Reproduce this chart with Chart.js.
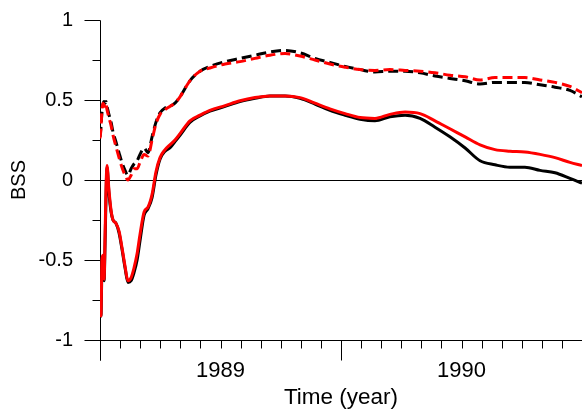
<!DOCTYPE html>
<html>
<head>
<meta charset="utf-8">
<script src="https://cdn.jsdelivr.net/npm/chart.js@4.4.1/dist/chart.umd.min.js"></script>
<style>
  html, body { margin: 0; padding: 0; background: #fff; }
  #bssChart { display: block; }
</style>
</head>
<body>
<canvas id="bssChart" width="582" height="412"></canvas>
<script>
// time axis in decimal years
const timeYears = [
    1989.000, 1989.004, 1989.008, 1989.012, 1989.017, 1989.021, 1989.025, 1989.029,
    1989.037, 1989.046, 1989.054, 1989.066, 1989.079, 1989.091, 1989.104, 1989.116,
    1989.129, 1989.141, 1989.154, 1989.166, 1989.183, 1989.199, 1989.216, 1989.232,
    1989.249, 1989.270, 1989.290, 1989.311, 1989.332, 1989.373, 1989.415, 1989.456,
    1989.519, 1989.581, 1989.643, 1989.705, 1989.768, 1989.830, 1989.892, 1989.954,
    1990.017, 1990.079, 1990.141, 1990.203, 1990.266, 1990.328, 1990.390, 1990.452,
    1990.515, 1990.577, 1990.639, 1990.701, 1990.763, 1990.826, 1990.888, 1990.950,
    1991.000
];

// Brier skill score, two runs, two variants each
const bssRunA = [
    -0.72, -0.85, -0.55, -0.48, -0.63, -0.40, -0.10, 0.08,
    -0.08, -0.20, -0.25, -0.27, -0.33, -0.43, -0.55, -0.64,
    -0.63, -0.58, -0.50, -0.38, -0.22, -0.18, -0.11, 0.03,
    0.13, 0.18, 0.20, 0.24, 0.28, 0.36, 0.40, 0.43,
    0.46, 0.49, 0.51, 0.525, 0.525, 0.51, 0.475, 0.435,
    0.405, 0.38, 0.37, 0.395, 0.405, 0.385, 0.33, 0.27,
    0.20, 0.12, 0.095, 0.08, 0.08, 0.06, 0.045, 0.01, -0.02
];
const bssRunB = [
    -0.72, -0.85, -0.50, -0.47, -0.62, -0.35, -0.05, 0.09,
    -0.06, -0.19, -0.25, -0.27, -0.32, -0.42, -0.54, -0.63,
    -0.61, -0.55, -0.46, -0.34, -0.20, -0.17, -0.09, 0.05,
    0.14, 0.19, 0.22, 0.25, 0.29, 0.37, 0.405, 0.435,
    0.465, 0.495, 0.515, 0.525, 0.525, 0.515, 0.48, 0.445,
    0.415, 0.39, 0.385, 0.41, 0.425, 0.415, 0.37, 0.32,
    0.27, 0.22, 0.19, 0.18, 0.175, 0.16, 0.14, 0.11, 0.09
];
const bssRunADash = [
    0.27, 0.33, 0.42, 0.47, 0.49, 0.48, 0.49, 0.46,
    0.41, 0.36, 0.30, 0.24, 0.17, 0.11, 0.06, 0.03,
    0.07, 0.10, 0.12, 0.16, 0.20, 0.17, 0.27, 0.36,
    0.42, 0.45, 0.46, 0.48, 0.52, 0.62, 0.68, 0.71,
    0.74, 0.76, 0.78, 0.80, 0.81, 0.795, 0.76, 0.735,
    0.71, 0.69, 0.675, 0.68, 0.68, 0.67, 0.65, 0.635,
    0.62, 0.60, 0.61, 0.61, 0.61, 0.595, 0.58, 0.56, 0.52
];
const bssRunBDash = [
    0.26, 0.32, 0.44, 0.48, 0.47, 0.45, 0.47, 0.44,
    0.39, 0.34, 0.28, 0.21, 0.14, 0.08, 0.03, 0.0,
    0.03, 0.07, 0.07, 0.11, 0.16, 0.15, 0.25, 0.35,
    0.41, 0.44, 0.46, 0.48, 0.52, 0.62, 0.68, 0.70,
    0.725, 0.74, 0.76, 0.78, 0.79, 0.775, 0.75, 0.725,
    0.705, 0.69, 0.685, 0.69, 0.685, 0.68, 0.67, 0.655,
    0.645, 0.625, 0.64, 0.64, 0.64, 0.625, 0.61, 0.585, 0.545
];

const yearLabels = [1989, 1990];
const yTicks = [-1, -0.5, 0, 0.5, 1];
const yMinorTicks = [-0.75, -0.25, 0.25, 0.75];

const FONT = 'Arial, "Liberation Sans", sans-serif';

function toPoints(values) {
    return values.map(function(v, i) { return {x: timeYears[i], y: v}; });
}

function lineSet(label, values, color, dashed, order) {
    return {
        label: label,
        data: toPoints(values),
        borderColor: color,
        borderWidth: 3,
        borderDash: dashed ? [10, 5] : [],
        pointRadius: 0,
        fill: false,
        cubicInterpolationMode: 'monotone',
        order: order
    };
}

// axis lines, tick marks and the zero line are drawn by hand
const axisMarks = {
    id: 'axisMarks',
    beforeDatasetsDraw: function(chart) {
        const ctx = chart.ctx;
        const xs = chart.scales.x;
        const ys = chart.scales.y;
        const area = chart.chartArea;
        const px = function(v) { return Math.round(v) + 0.5; };
        const left = px(xs.getPixelForValue(xs.min));
        const bottom = px(ys.getPixelForValue(ys.min));

        ctx.save();
        ctx.strokeStyle = '#000';
        ctx.lineWidth = 1;
        ctx.beginPath();

        // y axis
        ctx.moveTo(left, px(ys.getPixelForValue(ys.max)));
        ctx.lineTo(left, bottom + 20);
        yTicks.forEach(function(v) {
            const y = px(ys.getPixelForValue(v));
            ctx.moveTo(left - 16, y);
            ctx.lineTo(v === 0 || v === -1 ? area.right : left, y);
        });
        yMinorTicks.forEach(function(v) {
            const y = px(ys.getPixelForValue(v));
            ctx.moveTo(left - 8, y);
            ctx.lineTo(left, y);
        });

        // monthly ticks, longer at each new year
        for (let m = 0; m <= 24; m++) {
            const x = px(xs.getPixelForValue(xs.min + m / 12));
            ctx.moveTo(x, bottom);
            ctx.lineTo(x, bottom + (m % 12 === 0 ? 20 : 8));
        }
        ctx.stroke();
        ctx.restore();
    }
};

const ctx = document.getElementById('bssChart').getContext('2d');
const bssChart = new Chart(ctx, {
    type: 'line',
    data: {
        datasets: [
            lineSet('Run B', bssRunB, '#ff0000', false, 1),
            lineSet('Run B (dashed)', bssRunBDash, '#ff0000', true, 1),
            lineSet('Run A', bssRunA, '#000000', false, 2),
            lineSet('Run A (dashed)', bssRunADash, '#000000', true, 2)
        ]
    },
    plugins: [axisMarks],
    options: {
        responsive: false,
        animation: false,
        layout: {
            padding: {top: 20, right: 0, bottom: 0, left: 0}
        },
        plugins: {
            legend: {display: false},
            tooltip: {enabled: false}
        },
        scales: {
            x: {
                type: 'linear',
                min: 1989,
                max: 1991,
                grid: {display: false, drawTicks: false},
                border: {display: false},
                afterBuildTicks: function(scale) {
                    scale.ticks = yearLabels.map(function(y) { return {value: y + 0.5}; });
                },
                afterFit: function(scale) {
                    scale.height = 72;
                    scale.paddingLeft = 0;
                    scale.paddingRight = 0;
                },
                ticks: {
                    autoSkip: false,
                    maxRotation: 0,
                    padding: 18,
                    color: '#000',
                    font: {family: FONT, size: 22},
                    callback: function(value) { return String(Math.floor(value)); }
                },
                title: {
                    display: true,
                    text: 'Time (year)',
                    color: '#000',
                    font: {family: FONT, size: 22.5},
                    padding: {top: 0, bottom: 1}
                }
            },
            y: {
                type: 'linear',
                min: -1,
                max: 1,
                grid: {display: false, drawTicks: false},
                border: {display: false},
                afterBuildTicks: function(scale) {
                    scale.ticks = yTicks.map(function(v) { return {value: v}; });
                },
                afterFit: function(scale) {
                    scale.width = 100;
                    scale.paddingTop = 0;
                    scale.paddingBottom = 0;
                },
                ticks: {
                    padding: 27,
                    color: '#000',
                    font: {family: FONT, size: 20},
                    callback: function(value) { return String(value); }
                },
                title: {
                    display: true,
                    text: 'BSS',
                    color: '#000',
                    font: {family: FONT, size: 20},
                    padding: {top: 7, bottom: 0}
                }
            }
        }
    }
});
</script>
</body>
</html>
